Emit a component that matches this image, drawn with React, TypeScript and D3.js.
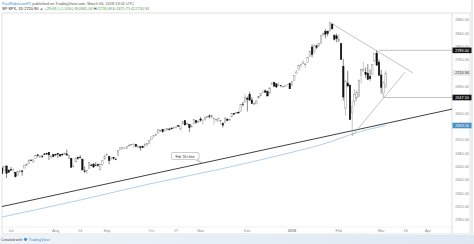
import React from "react";
import * as d3 from "d3";

// Trading days Jun 27 2017 .. Mar 5 2018 (bar index = position)
const dates = [
  "2017-06-27","2017-06-28","2017-06-29","2017-06-30",
  "2017-07-03","2017-07-05","2017-07-06","2017-07-07","2017-07-10","2017-07-11","2017-07-12","2017-07-13","2017-07-14","2017-07-17","2017-07-18","2017-07-19","2017-07-20","2017-07-21","2017-07-24","2017-07-25","2017-07-26","2017-07-27","2017-07-28","2017-07-31",
  "2017-08-01","2017-08-02","2017-08-03","2017-08-04","2017-08-07","2017-08-08","2017-08-09","2017-08-10","2017-08-11","2017-08-14","2017-08-15","2017-08-16","2017-08-17","2017-08-18","2017-08-21","2017-08-22","2017-08-23","2017-08-24","2017-08-25","2017-08-28","2017-08-29","2017-08-30","2017-08-31",
  "2017-09-01","2017-09-05","2017-09-06","2017-09-07","2017-09-08","2017-09-11","2017-09-12","2017-09-13","2017-09-14","2017-09-15","2017-09-18","2017-09-19","2017-09-20","2017-09-21","2017-09-22","2017-09-25","2017-09-26","2017-09-27","2017-09-28","2017-09-29",
  "2017-10-02","2017-10-03","2017-10-04","2017-10-05","2017-10-06","2017-10-09","2017-10-10","2017-10-11","2017-10-12","2017-10-13","2017-10-16","2017-10-17","2017-10-18","2017-10-19","2017-10-20","2017-10-23","2017-10-24","2017-10-25","2017-10-26","2017-10-27","2017-10-30","2017-10-31",
  "2017-11-01","2017-11-02","2017-11-03","2017-11-06","2017-11-07","2017-11-08","2017-11-09","2017-11-10","2017-11-13","2017-11-14","2017-11-15","2017-11-16","2017-11-17","2017-11-20","2017-11-21","2017-11-22","2017-11-24","2017-11-27","2017-11-28","2017-11-29","2017-11-30",
  "2017-12-01","2017-12-04","2017-12-05","2017-12-06","2017-12-07","2017-12-08","2017-12-11","2017-12-12","2017-12-13","2017-12-14","2017-12-15","2017-12-18","2017-12-19","2017-12-20","2017-12-21","2017-12-22","2017-12-26","2017-12-27","2017-12-28","2017-12-29",
  "2018-01-02","2018-01-03","2018-01-04","2018-01-05","2018-01-08","2018-01-09","2018-01-10","2018-01-11","2018-01-12","2018-01-16","2018-01-17","2018-01-18","2018-01-19","2018-01-22","2018-01-23","2018-01-24","2018-01-25","2018-01-26","2018-01-29","2018-01-30","2018-01-31",
  "2018-02-01","2018-02-02","2018-02-05","2018-02-06","2018-02-07","2018-02-08","2018-02-09","2018-02-12","2018-02-13","2018-02-14","2018-02-15","2018-02-16","2018-02-20","2018-02-21","2018-02-22","2018-02-23","2018-02-26","2018-02-27","2018-02-28",
  "2018-03-01","2018-03-02","2018-03-05",
];

// [open, high, low, close]
const ohlc: number[][] = [
  [2436.0,2440.1,2419.4,2419.4],[2428.7,2442.0,2428.7,2440.7],[2442.4,2442.7,2405.7,2419.7],[2429.2,2432.7,2421.6,2423.4],
  [2431.4,2439.2,2428.7,2429.0],[2430.8,2434.8,2422.1,2432.5],[2423.2,2424.3,2407.7,2409.8],[2413.5,2426.9,2413.5,2425.2],[2424.5,2432.0,2422.3,2427.4],[2427.4,2429.3,2412.8,2425.5],[2435.8,2445.8,2435.6,2443.3],[2444.0,2449.3,2441.7,2447.8],[2449.2,2463.5,2446.7,2459.3],[2459.5,2462.8,2457.2,2459.1],[2455.9,2460.9,2450.3,2460.6],[2463.9,2473.8,2463.9,2473.8],[2475.6,2477.6,2468.4,2473.5],[2467.4,2472.5,2465.1,2472.5],[2472.0,2473.1,2466.3,2469.9],[2477.9,2481.2,2474.6,2477.1],[2479.9,2481.7,2474.9,2477.8],[2482.8,2484.0,2459.9,2475.4],[2469.1,2473.5,2464.7,2472.1],[2475.9,2477.9,2468.5,2470.3],
  [2477.1,2478.5,2471.1,2476.4],[2480.4,2480.4,2466.5,2477.6],[2476.0,2476.0,2468.9,2472.2],[2476.9,2480.0,2472.1,2476.8],[2477.1,2480.9,2475.9,2480.9],[2478.4,2491.0,2472.3,2474.9],[2465.4,2474.4,2462.1,2474.0],[2465.4,2465.4,2437.8,2438.2],[2441.0,2448.1,2437.9,2441.3],[2454.0,2467.2,2454.0,2465.8],[2468.7,2468.7,2460.8,2464.6],[2468.6,2474.9,2463.9,2468.1],[2462.0,2465.0,2430.0,2430.0],[2427.6,2440.3,2420.7,2425.6],[2425.5,2430.6,2417.4,2428.4],[2433.8,2454.8,2433.7,2452.5],[2444.9,2448.9,2441.4,2444.0],[2447.9,2450.4,2436.2,2439.0],[2444.7,2453.9,2442.2,2443.1],[2447.3,2449.1,2439.0,2444.2],[2431.9,2449.2,2428.2,2446.3],[2446.0,2460.4,2443.8,2457.6],[2462.7,2475.0,2462.7,2471.7],
  [2474.4,2480.4,2473.9,2476.6],[2470.4,2472.0,2446.6,2457.9],[2463.8,2469.6,2459.2,2465.5],[2468.1,2468.6,2460.3,2465.1],[2462.3,2467.1,2459.4,2461.4],[2474.5,2488.9,2474.5,2488.1],[2491.9,2496.8,2490.4,2496.5],[2493.9,2498.4,2492.1,2498.4],[2494.6,2498.4,2491.4,2495.6],[2495.7,2500.2,2493.2,2500.2],[2502.5,2508.3,2499.9,2503.9],[2506.3,2507.8,2503.2,2506.7],[2506.8,2508.9,2496.7,2508.2],[2507.2,2507.2,2499.0,2500.6],[2497.3,2503.5,2496.5,2502.2],[2499.4,2502.5,2488.0,2496.7],[2501.0,2503.5,2495.1,2496.8],[2503.3,2511.8,2495.9,2507.0],[2503.4,2510.8,2502.9,2510.1],[2510.8,2519.4,2507.8,2519.4],
  [2521.2,2529.2,2520.4,2529.1],[2530.3,2535.1,2528.9,2534.6],[2533.5,2540.5,2531.8,2537.7],[2540.9,2552.5,2540.0,2552.1],[2547.4,2549.4,2543.8,2549.3],[2551.4,2551.8,2541.6,2544.7],[2549.0,2555.2,2544.9,2550.6],[2550.6,2555.2,2547.9,2555.2],[2552.9,2555.3,2548.3,2550.9],[2555.7,2557.7,2552.1,2553.2],[2555.6,2559.5,2552.6,2557.6],[2557.2,2559.7,2554.7,2559.4],[2562.9,2564.1,2559.7,2561.3],[2553.4,2562.4,2547.9,2562.1],[2567.6,2575.4,2567.6,2575.2],[2578.1,2578.3,2564.3,2565.0],[2568.7,2572.2,2565.6,2569.1],[2566.5,2567.4,2544.0,2557.2],[2560.1,2567.1,2559.8,2560.4],[2570.3,2583.0,2565.9,2581.1],[2577.8,2580.0,2568.6,2572.8],[2575.0,2578.1,2572.0,2575.3],
  [2583.2,2588.4,2574.9,2579.4],[2579.5,2581.1,2566.2,2579.9],[2581.9,2588.4,2576.8,2587.8],[2587.5,2593.4,2585.7,2591.1],[2592.1,2597.0,2584.4,2590.6],[2588.7,2595.5,2585.0,2594.4],[2584.0,2586.5,2566.3,2584.6],[2580.2,2583.0,2575.6,2582.3],[2576.5,2587.7,2576.5,2584.8],[2577.8,2579.7,2566.6,2578.9],[2569.5,2572.8,2557.4,2564.6],[2572.9,2590.1,2572.9,2585.6],[2582.9,2583.9,2577.6,2578.9],[2579.5,2584.6,2578.2,2582.1],[2589.2,2601.2,2589.2,2599.0],[2600.0,2600.9,2596.2,2597.1],[2600.4,2604.2,2600.4,2602.4],[2602.7,2606.4,2598.9,2601.4],[2605.9,2627.7,2605.4,2627.0],[2627.8,2634.9,2620.3,2626.1],[2633.9,2657.7,2633.9,2647.6],
  [2645.1,2650.6,2605.5,2642.2],[2657.2,2665.2,2639.0,2639.4],[2639.8,2648.7,2627.7,2629.6],[2626.2,2634.4,2624.8,2629.3],[2628.4,2640.9,2628.4,2637.0],[2646.2,2651.7,2644.1,2651.5],[2652.2,2660.3,2652.2,2660.0],[2661.7,2669.7,2659.8,2664.1],[2667.6,2671.9,2662.9,2662.9],[2665.9,2668.1,2651.6,2652.0],[2660.6,2679.6,2659.1,2675.8],[2685.9,2695.0,2685.9,2690.2],[2692.7,2694.4,2680.7,2681.5],[2688.2,2691.0,2676.1,2679.3],[2683.0,2692.6,2682.4,2684.6],[2684.2,2685.4,2678.1,2683.3],[2679.1,2682.7,2678.0,2680.5],[2682.1,2685.6,2678.9,2682.6],[2686.1,2687.7,2682.7,2687.5],[2689.2,2692.1,2673.6,2673.6],
  [2683.7,2695.9,2682.4,2695.8],[2697.9,2714.4,2697.8,2713.1],[2719.3,2729.3,2719.1,2724.0],[2731.3,2743.5,2727.9,2743.2],[2742.7,2748.5,2737.6,2747.7],[2751.2,2759.1,2747.9,2751.3],[2745.6,2750.8,2736.1,2748.2],[2753.0,2767.6,2752.8,2767.6],[2770.2,2787.9,2769.6,2786.2],[2799.0,2807.5,2768.6,2776.4],[2785.0,2807.0,2778.4,2802.6],[2802.4,2805.8,2792.6,2798.0],[2802.6,2810.3,2798.1,2810.3],[2809.2,2833.0,2808.1,2833.0],[2835.1,2842.2,2830.6,2839.1],[2845.4,2853.0,2824.8,2837.5],[2846.2,2848.6,2830.9,2839.3],[2847.5,2872.9,2846.2,2872.9],[2867.2,2870.6,2851.5,2853.5],[2832.7,2837.8,2818.3,2822.4],[2832.4,2839.3,2813.0,2823.8],
  [2816.5,2836.0,2812.7,2822.0],[2808.9,2808.9,2760.0,2762.1],[2741.1,2763.4,2638.2,2648.9],[2614.8,2701.0,2593.1,2695.1],[2691.0,2727.7,2681.3,2681.7],[2685.0,2685.3,2580.6,2581.0],[2601.8,2638.7,2532.7,2619.6],[2636.8,2672.6,2622.5,2656.0],[2646.3,2668.8,2637.1,2662.9],[2651.2,2702.1,2648.9,2698.6],[2713.5,2731.5,2689.8,2731.2],[2727.1,2754.4,2725.1,2732.2],[2723.0,2737.6,2706.8,2716.3],[2720.5,2747.8,2701.3,2701.3],[2710.4,2731.3,2697.8,2704.0],[2715.8,2747.8,2713.7,2747.3],[2757.4,2780.0,2753.8,2779.6],[2780.5,2789.2,2744.2,2744.3],[2753.8,2761.5,2713.5,2713.8],
  [2715.2,2730.9,2659.7,2677.7],[2658.9,2696.3,2647.3,2691.3],[2681.1,2728.1,2675.8,2720.9],
];

// 200-day moving average: [bar index, value]
const maPoints: number[][] = [
  [0, 2289],[35, 2340],[66, 2388],[98, 2433],[125, 2475],[147, 2514],[157, 2538],[172, 2563.5],
];

const priceTicks = [2280, 2320, 2360, 2400, 2440, 2480, 2520, 2600, 2680, 2760, 2800, 2840, 2880];
// time-axis labels: [label, bar index]
const timeLabels: [string, number][] = [
  ["Jul", 4],["Aug", 24],["16", 35],["Sep", 47],["Oct", 67],["17", 78],["Nov", 89],["Dec", 110],["2018", 130],["Feb", 151],["Mar", 170],["16", 181],["Apr", 191],
];

// drawings: [barIndex, price] anchors
const tLine = [[-1, 2319], [202, 2613]];
const triUpper = [[147, 2872.87], [184.3, 2721]];
const triLower = [[157, 2532.69], [180.7, 2724]];
const hLines: [number, number][] = [[169, 2789.0], [171, 2647.5]];

const priceBoxes: { v: number; label: string; bg: string; fg: string }[] = [
  { v: 2789.0, label: "2789.00", bg: "#131313", fg: "#ffffff" },
  { v: 2720.94, label: "2720.94", bg: "#e6e6e6", fg: "#333333" },
  { v: 2647.5, label: "2647.50", bg: "#131313", fg: "#ffffff" },
  { v: 2563.5, label: "2563.50", bg: "#4a8fc2", fg: "#ffffff" },
];

const FONT = "'Liberation Sans', Arial, sans-serif";

export default function App() {
  const W = 474, H = 244;
  const left = 2, right = 452, top = 13, bottom = 227;
  const x = d3.scaleLinear().domain([0, 200]).range([2.1, 2.1 + 200 * 2.23]);
  const y = d3.scaleLinear().domain([2280, 2880]).range([220, 20]);
  const bw = 1.5;
  const maLine = d3.line<number[]>().x((d) => x(d[0])).y((d) => y(d[1])).curve(d3.curveMonotoneX)(maPoints) || "";
  const seg = (p: number[][]) => ({ x1: x(p[0][0]), y1: y(p[0][1]), x2: x(p[1][0]), y2: y(p[1][1]) });
  const tl = seg(tLine), tu = seg(triUpper), tlo = seg(triLower);
  const lastClose = ohlc[ohlc.length - 1][3];

  return (
    <svg width={W} height={H} style={{ position: "absolute", left: 0, top: 0, background: "#fff" }} fontFamily={FONT}>
      <defs>
        <clipPath id="plot"><rect x={left} y={top} width={right - left} height={bottom - top} /></clipPath>
        <linearGradient id="foot" x1="0" x2="1" y1="0" y2="0">
          <stop offset="0" stopColor="#eef3f8" />
          <stop offset="1" stopColor="#dde8f3" />
        </linearGradient>
      </defs>
      <rect x={0} y={0} width={W} height={H} fill="#fff" />
      {/* header */}
      <text x={2} y={4.5} fontSize={3.9} fill="#555">
        <tspan fill="#3d8fd6">PaulRobinsonFX</tspan> published on TradingView.com, March 06, 2018 13:01 UTC
      </text>
      <text x={2} y={10} fontSize={3.9} fill="#222">
        SP:SPX, 1D <tspan>{lastClose.toFixed(2)}</tspan> <tspan fill="#3cab3c">▲ +29.69 (+1.10%)</tspan> O:<tspan fill="#3cab3c">2681.06</tspan> H:<tspan fill="#3cab3c">2728.09</tspan> L:<tspan fill="#3cab3c">2675.75</tspan> C:<tspan fill="#3cab3c">2720.94</tspan>
      </text>
      {/* frame */}
      <rect x={left} y={top} width={470 - left} height={234 - top} fill="none" stroke="#d4d4d4" strokeWidth={0.7} />
      <line x1={right} x2={right} y1={top} y2={234} stroke="#cfcfcf" strokeWidth={0.7} />
      <line x1={left} x2={right} y1={bottom} y2={bottom} stroke="#e2e2e2" strokeWidth={0.5} />
      <line x1={472} x2={472} y1={0} y2={236} stroke="#e4e4e4" strokeWidth={1.5} />

      <g clipPath="url(#plot)">
        {/* moving average */}
        <path d={maLine} fill="none" stroke="#9cc3e6" strokeWidth={0.8} />
        {/* Feb '16 trend line */}
        <line {...tl} stroke="#2b2b2b" strokeWidth={0.9} />
        {/* triangle */}
        <line {...tu} stroke="#9a9a9a" strokeWidth={0.6} />
        <line {...tlo} stroke="#9a9a9a" strokeWidth={0.6} />
        {hLines.map(([i, v], k) => (
          <line key={k} x1={x(i)} x2={right} y1={y(v)} y2={y(v)} stroke="#9a9a9a" strokeWidth={0.6} />
        ))}
        {/* candles */}
        {ohlc.map(([o, h, l, c], i) => {
          const up = c >= o;
          const cx = x(i);
          const yt = y(Math.max(o, c)), yb = y(Math.min(o, c));
          return (
            <g key={dates[i]}>
              <line x1={cx} x2={cx} y1={y(h)} y2={y(l)} stroke={up ? "#8a8a8a" : "#111"} strokeWidth={0.5} />
              <rect x={cx - bw / 2} y={yt} width={bw} height={Math.max(0.5, yb - yt)}
                fill={up ? "#ffffff" : "#111"} stroke={up ? "#8a8a8a" : "#111"} strokeWidth={0.45} />
            </g>
          );
        })}
      </g>

      {/* callout */}
      <g>
        <path d="M172.5,152.5 h25.5 a1,1 0 0 1 1,1 v5 a1,1 0 0 1 -1,1 h-1 l5,3.5 l-7,-3.5 h-22.5 a1,1 0 0 1 -1,-1 v-5 a1,1 0 0 1 1,-1 z"
          fill="#fff" stroke="#9a9a9a" strokeWidth={0.5} />
        <text x={185} y={157.6} fontSize={3.3} textAnchor="middle" fill="#222">Feb '16 t-line</text>
      </g>

      {/* price axis */}
      {priceTicks.map((v) => (
        <text key={v} x={462} y={y(v) + 1.4} fontSize={3.8} textAnchor="middle" fill="#8a8a8a">{v.toFixed(2)}</text>
      ))}
      {priceBoxes.map((b) => (
        <g key={b.label}>
          <rect x={452.5} y={y(b.v) - 2.8} width={19} height={5.6} fill={b.bg} />
          <text x={462} y={y(b.v) + 1.4} fontSize={3.8} textAnchor="middle" fill={b.fg}>{b.label}</text>
        </g>
      ))}

      {/* time axis */}
      {timeLabels.map(([t, i], k) => (
        <text key={k} x={x(i)} y={231.5} fontSize={3.8} textAnchor="middle" fill="#8a8a8a" fontWeight={t === "2018" ? "bold" : "normal"}>{t}</text>
      ))}

      {/* footer */}
      <rect x={0} y={235} width={W} height={9} fill="url(#foot)" />
      <text x={1} y={240.5} fontSize={3.8} fill="#444">Created with</text>
      <circle cx={25.5} cy={239.3} r={1.6} fill="#3d8fd6" />
      <text x={28.5} y={240.5} fontSize={3.8} fill="#3d8fd6">TradingView</text>
    </svg>
  );
}
